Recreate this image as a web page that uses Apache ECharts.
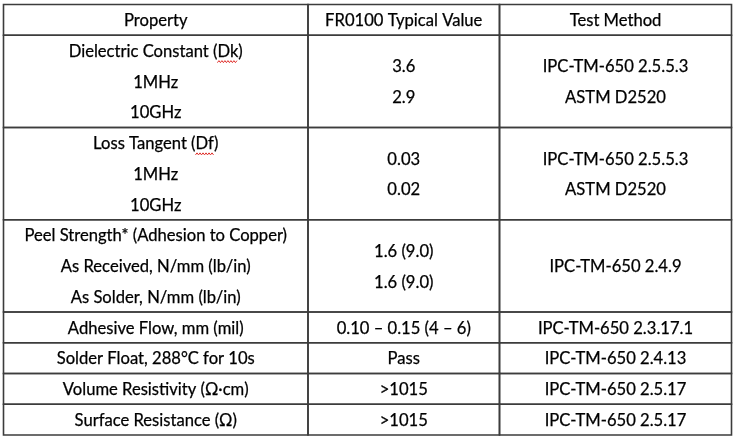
<!DOCTYPE html>
<html>
<head>
<meta charset="utf-8">
<script src="https://cdn.jsdelivr.net/npm/echarts@6/dist/echarts.min.js"></script>
<style>html,body{margin:0;padding:0;background:#fff;}#main{width:737px;height:442px;}</style>
</head>
<body>
<div id="main"></div>
<script>
const headerLabels = ['Property', 'FR0100 Typical Value', 'Test Method'];
const properties = [
  ['Dielectric Constant (Dk)', '1MHz', '10GHz'],
  ['Loss Tangent (Df)', '1MHz', '10GHz'],
  ['Peel Strength* (Adhesion to Copper)', 'As Received, N/mm (lb/in)', 'As Solder, N/mm (lb/in)'],
  ['Adhesive Flow, mm (mil)'],
  ['Solder Float, 288°C for 10s'],
  ['Volume Resistivity (Ω·cm)'],
  ['Surface Resistance (Ω)']
];
const typicalValues = [
  ['3.6', '2.9'],
  ['0.03', '0.02'],
  ['1.6 (9.0)', '1.6 (9.0)'],
  ['0.10 – 0.15 (4 – 6)'],
  ['Pass'],
  ['>1015'],
  ['>1015']
];
const testMethods = [
  ['IPC-TM-650 2.5.5.3', 'ASTM D2520'],
  ['IPC-TM-650 2.5.5.3', 'ASTM D2520'],
  ['IPC-TM-650 2.4.9'],
  ['IPC-TM-650 2.3.17.1'],
  ['IPC-TM-650 2.4.13'],
  ['IPC-TM-650 2.5.17'],
  ['IPC-TM-650 2.5.17']
];
const spellMarked = ['Dk', 'Df'];

// layout (not data)
const columnEdges = [0, 304.5, 496, 728];
const FONT = '16.6px Lato';
const LINE_COLOR = '#3c3c3c';

const rows = [headerLabels.map(h => [h])].concat(
  properties.map((p, i) => [p, typicalValues[i], testMethods[i]])
);
let acc = 0;
const rowData = rows.map(r => {
  const n = Math.max.apply(null, r.map(c => c.length));
  const d = [acc, n];
  acc += n;
  return d;
});
const totalLines = acc;

const ctx = document.createElement('canvas').getContext('2d');
ctx.font = FONT;
function tw(s) { return ctx.measureText(s).width; }

function renderItem(params, api) {
  const i = params.dataIndex;
  const start = api.value(0), n = api.value(1);
  const top = api.coord([0, start])[1];
  const bottom = api.coord([0, start + n])[1];
  const lh = (bottom - top) / n;
  const children = [];
  rows[i].forEach((lines, c) => {
    const x0 = api.coord([columnEdges[c], 0])[0];
    const x1 = api.coord([columnEdges[c + 1], 0])[0];
    children.push({
      type: 'rect',
      shape: { x: x0, y: top, width: x1 - x0, height: bottom - top },
      style: { fill: 'none', stroke: LINE_COLOR, lineWidth: 1.6 }
    });
    const cx = (x0 + x1) / 2;
    const mid = (top + bottom) / 2;
    lines.forEach((t, k) => {
      const y = mid + (k - (lines.length - 1) / 2) * lh + 1;
      children.push({
        type: 'text',
        style: { text: t, x: cx, y: y, align: 'center', verticalAlign: 'middle', font: FONT, fill: '#000', stroke: '#000', lineWidth: 0.25 }
      });
      spellMarked.forEach(w => {
        const idx = t.indexOf('(' + w + ')');
        if (idx >= 0) {
          const W = tw(t);
          const sx = cx - W / 2 + tw(t.slice(0, idx + 1));
          const ww = tw(w);
          const pts = [];
          for (let px = 0; px <= ww; px += 1.5) {
            pts.push([sx + px, y + 10 + ((Math.round(px / 1.5) % 2) ? -1 : 1)]);
          }
          children.push({
            type: 'polyline',
            shape: { points: pts },
            style: { stroke: '#e0302c', lineWidth: 1, fill: 'none' }
          });
        }
      });
    });
  });
  return { type: 'group', children: children };
}

const chart = echarts.init(document.getElementById('main'), null, { renderer: 'canvas' });
chart.setOption({
  backgroundColor: '#ffffff',
  animation: false,
  grid: { left: 3.5, top: 4.5, width: 728, height: 430.5 },
  xAxis: { type: 'value', min: 0, max: 728, show: false },
  yAxis: { type: 'value', min: 0, max: totalLines, inverse: true, show: false },
  series: [{
    type: 'custom',
    renderItem: renderItem,
    data: rowData,
    clip: false
  }]
});
</script>
</body>
</html>
